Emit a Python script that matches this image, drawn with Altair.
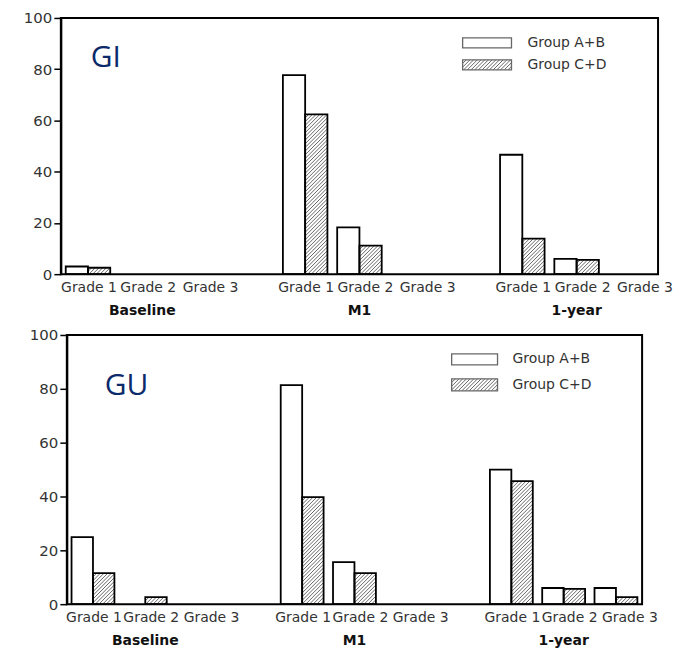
import altair as alt
import pandas as pd

# ---------------- data ----------------
times = ["Baseline", "M1", "1-year"]
grades = ["Grade 1", "Grade 2", "Grade 3"]
groups = ["Group A+B", "Group C+D"]
panel_titles = ["GI", "GU"]

# values per (time, grade), in order Baseline G1..G3, M1 G1..G3, 1-year G1..G3
gi_ab = [3.0, 0, 0, 77.7, 18.3, 0, 46.6, 6.0, 0]
gi_cd = [2.5, 0, 0, 62.4, 11.1, 0, 13.9, 5.6, 0]
gu_ab = [24.9, 0, 0, 81.4, 15.6, 0, 50.0, 6.0, 6.0]
gu_cd = [11.5, 2.6, 0, 39.8, 11.5, 0, 45.7, 5.7, 2.6]

# ---------------- style ----------------
FONT = "DejaVu Sans"
TITLE_FONT = "Open Sans"
BAR_W = 0.41          # width of one bar in slot units
HATCH_STEP = 3.7      # px between hatch lines
NSLOT = 11
GRADE_DX = [1, 6, 14]  # label nudges of the original layout
EXT = 38


def slot(ti, gi):
    return 4 * ti + gi


def bar_frame(ab, cd):
    rows = []
    for ti, t in enumerate(times):
        for gi, g in enumerate(grades):
            k = ti * 3 + gi
            s = slot(ti, gi)
            for j, (grp, vals) in enumerate(zip(groups, [ab, cd])):
                v = vals[k]
                if v <= 0:
                    continue
                x0 = s - BAR_W + j * BAR_W
                rows.append(dict(time=t, grade=g, group=grp, y1=v,
                                 x0=x0, x1=x0 + BAR_W, y0=0.0))
    return pd.DataFrame(rows)


def hatch_frame(rects, ppx, ppy):
    segs = []
    for r in rects:
        u0 = (r["x0"] + 0.5) * ppx
        u1 = (r["x1"] + 0.5) * ppx
        v0 = r["y0"] * ppy
        v1 = r["y1"] * ppy
        c = u0 - v1
        while c < u1 - v0:
            vs = max(v0, u0 - c)
            ve = min(v1, u1 - c)
            if ve - vs > 0.4:
                segs.append(dict(hx0=(c + vs) / ppx - 0.5, hy0=vs / ppy,
                                 hx1=(c + ve) / ppx - 0.5, hy1=ve / ppy))
            c += HATCH_STEP
    return pd.DataFrame(segs)


def panel(ab, cd, title, W, H, shift, leg_rx, leg_ry, txt_x, title_pos):
    ppx = W / NSLOT
    ppy = H / 100.0
    lo = -0.5 - shift / ppx
    xs = alt.Scale(domain=[lo, NSLOT - 0.5], nice=False, zero=False)
    ys = alt.Scale(domain=[0, 100], nice=False, zero=True)
    xaxis = alt.Axis(labels=False, ticks=False, grid=False, title=None, domain=False)
    yaxis = alt.Axis(values=[0, 20, 40, 60, 80, 100], grid=False, title=None,
                     tickSize=7, tickColor="black", tickWidth=1.5,
                     labelFontSize=15, labelFont=FONT, labelColor="#333",
                     labelPadding=2, domainColor="black", domainWidth=2,
                     offset=-shift, minExtent=EXT, maxExtent=EXT)

    bars = bar_frame(ab, cd)

    # legend boxes (pixel positions inside the plot converted to data units)
    leg = pd.DataFrame([
        dict(group=g, x0=leg_rx[0] / ppx - 0.5, x1=leg_rx[1] / ppx - 0.5,
             y1=100 - ry[0] / ppy, y0=100 - ry[1] / ppy,
             tx=txt_x / ppx - 0.5, ty=100 - (ry[0] + ry[1]) / 2 / ppy)
        for g, ry in zip(groups, leg_ry)
    ])

    hatch_rects = bars[bars.group == groups[1]].to_dict("records") + \
        leg[leg.group == groups[1]].to_dict("records")
    hatch = hatch_frame(hatch_rects, ppx, ppy)

    frame = pd.DataFrame([dict(x0=-0.5, x1=NSLOT - 0.5, y0=0, y1=100)])

    enc = dict(x=alt.X("x0:Q", scale=xs, axis=xaxis), x2="x1",
               y=alt.Y("y1:Q", scale=ys, axis=yaxis), y2="y0")

    fill = alt.Chart(bars).mark_rect(fill="white").encode(**enc)
    leg_fill = alt.Chart(leg).mark_rect(fill="white").encode(**enc)
    hl = alt.Chart(hatch).mark_rule(color="#555", strokeWidth=0.9).encode(
        x=alt.X("hx0:Q", scale=xs, axis=xaxis), x2="hx1",
        y=alt.Y("hy0:Q", scale=ys, axis=yaxis), y2="hy1")
    outline = alt.Chart(bars).mark_rect(fill="white", fillOpacity=0,
                                        stroke="black", strokeWidth=1.8).encode(**enc)
    leg_out = alt.Chart(leg).mark_rect(fill="white", fillOpacity=0,
                                       stroke="#666", strokeWidth=1.3).encode(**enc)
    box = alt.Chart(frame).mark_rect(fill="white", fillOpacity=0,
                                     stroke="black", strokeWidth=2).encode(**enc)
    leg_txt = alt.Chart(leg).mark_text(align="left", baseline="middle",
                                       font=FONT, fontSize=14, color="#333").encode(
        x=alt.X("tx:Q", scale=xs, axis=xaxis),
        y=alt.Y("ty:Q", scale=ys, axis=yaxis), text="group:N")

    gdf = pd.DataFrame([dict(grade=g, gx=slot(ti, gi), gi=gi)
                        for ti in range(3) for gi, g in enumerate(grades)])
    grade_layers = [
        alt.Chart(gdf).transform_filter(f"datum.gi == {gi}").mark_text(
            baseline="middle", font=FONT, fontSize=14, color="#333", dx=GRADE_DX[gi]
        ).encode(x=alt.X("gx:Q", scale=xs, axis=xaxis), y=alt.value(H + 14),
                 text="grade:N")
        for gi in range(3)
    ]

    tdf = pd.DataFrame({"time": times, "tx": [slot(i, 1) for i in range(3)]})
    time_txt = alt.Chart(tdf).mark_text(baseline="middle", font=FONT, fontSize=14,
                                        fontWeight="bold", color="#111").encode(
        x=alt.X("tx:Q", scale=xs, axis=xaxis), y=alt.value(H + 37), text="time:N")

    ttl = alt.Chart(pd.DataFrame({"t": [title]})).mark_text(
        align="left", baseline="middle", font=TITLE_FONT, fontSize=30,
        color="#0b2a6b").encode(text="t:N", x=alt.value(title_pos[0] + shift),
                                y=alt.value(title_pos[1]))

    return alt.layer(fill, leg_fill, hl, outline, leg_out, box, leg_txt,
                     *grade_layers, time_txt, ttl).properties(width=W + shift, height=H)


top = panel(gi_ab, gi_cd, panel_titles[0], 599, 257, 0,
            (403, 452), [(20, 30), (42, 52)], 468, (30, 40))
bottom = panel(gu_ab, gu_cd, panel_titles[1], 577, 270, 6,
               (386, 432), [(19, 30), (44, 56)], 447, (38, 51))

chart = alt.vconcat(top, bottom, spacing=8).properties(
    padding={"left": 14, "top": 1, "right": 0, "bottom": 0},
    background="white",
).configure_view(stroke="transparent")

chart.save("out.html", embed_options={"renderer": "svg", "actions": False})
